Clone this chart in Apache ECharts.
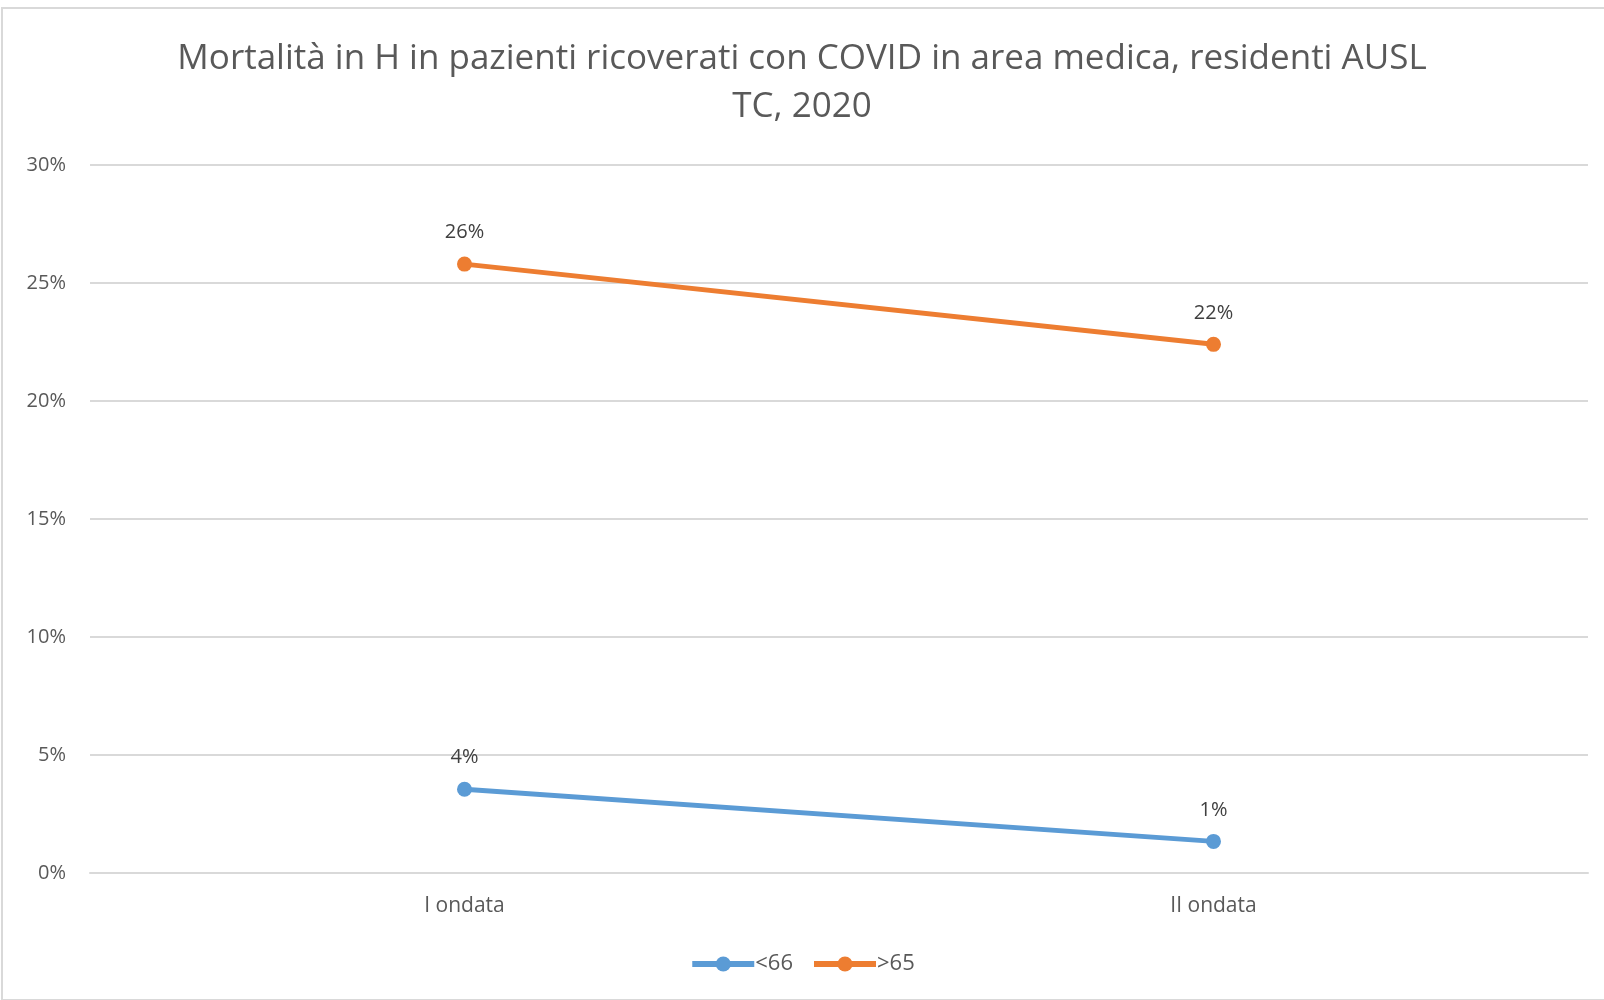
<!DOCTYPE html>
<html lang="it">
<head>
    <meta charset="UTF-8">
    <title>Mortalità COVID</title>
    <script src="https://cdn.jsdelivr.net/npm/echarts/dist/echarts.min.js"></script>
    <style>
        html, body { margin: 0; padding: 0; background: #fff; overflow: hidden; }
        #frame { position: absolute; left: 1px; top: 7px; width: 1610px; height: 990px; border: 2px solid #d9d9d9; }
        #main { position: absolute; left: 0; top: 0; width: 1604px; height: 1000px; }
    </style>
</head>
<body>
<div id="frame"></div>
<div id="main"></div>
<script type="text/javascript">
    // dati
    var categories = ['I ondata', 'II ondata'];
    var under66 = [0.0355, 0.0134];
    var over65 = [0.258, 0.224];
    var seriesNames = ['<66', '>65'];

    var chart = echarts.init(document.getElementById('main'));
    var fontFam = '"Open Sans", "Liberation Sans", sans-serif';

    function pct(v) {
        return Math.round(v * 100) + '%';
    }

    function lineSeries(name, data, color) {
        return {
            name: name,
            type: 'line',
            data: data,
            symbol: 'circle',
            symbolSize: 15,
            lineStyle: { width: 5, color: color },
            itemStyle: { color: color },
            label: {
                show: true,
                position: 'top',
                distance: 14,
                color: '#404040',
                fontSize: 20,
                fontFamily: fontFam,
                formatter: function (p) { return pct(p.value); }
            }
        };
    }

    chart.setOption({
        animation: false,
        title: {
            text: 'Mortalità in H in pazienti ricoverati con COVID in area medica, residenti AUSL\nTC, 2020',
            left: 'center',
            top: 30,
            textStyle: {
                color: '#595959',
                fontSize: 35,
                fontWeight: 'normal',
                fontFamily: fontFam,
                lineHeight: 48
            }
        },
        legend: {
            bottom: 20,
            left: 'center',
            itemWidth: 62,
            itemHeight: 19,
            itemGap: 18,
            lineStyle: { width: 6 },
            textStyle: { color: '#595959', fontSize: 22, fontFamily: fontFam, padding: [0, 0, 0, -4] },
            data: seriesNames
        },
        grid: { left: 90, right: 16, top: 165, bottom: 127 },
        xAxis: {
            type: 'category',
            data: categories,
            boundaryGap: true,
            axisLine: { show: true, lineStyle: { color: '#d9d9d9', width: 2 } },
            axisTick: { show: false },
            axisLabel: { color: '#595959', fontSize: 21, fontFamily: fontFam, margin: 23 }
        },
        yAxis: {
            type: 'value',
            min: 0,
            max: 0.3,
            interval: 0.05,
            axisLine: { show: false },
            axisTick: { show: false },
            splitLine: { lineStyle: { color: '#d9d9d9', width: 2 } },
            axisLabel: {
                color: '#595959',
                fontSize: 20,
                fontFamily: fontFam,
                margin: 24,
                formatter: function (v) { return pct(v); }
            }
        },
        series: [
            lineSeries(seriesNames[0], under66, '#5b9bd5'),
            lineSeries(seriesNames[1], over65, '#ed7d31')
        ]
    });
</script>
</body>
</html>
